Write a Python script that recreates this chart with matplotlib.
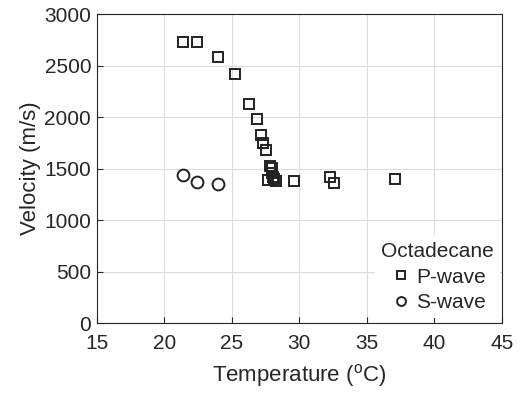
import numpy as np
import matplotlib
matplotlib.use("Agg")
import matplotlib.pyplot as plt

plt.rcParams['font.family'] = ['Liberation Sans', 'DejaVu Sans']
plt.rcParams['mathtext.fontset'] = 'custom'
plt.rcParams['mathtext.rm'] = 'Liberation Sans'

# P-wave velocity vs temperature
p_temp = [21.4, 22.4, 24.0, 25.2, 26.3, 26.9, 27.15, 27.3, 27.5, 27.85, 28.0, 28.0, 28.05,
          27.7, 28.3, 28.1, 29.6, 32.3, 32.6, 37.1]
p_vel = [2730, 2730, 2580, 2420, 2130, 1985, 1830, 1750, 1685, 1530, 1505, 1456, 1423,
         1391, 1381, 1400, 1381, 1423, 1365, 1400]

# S-wave velocity vs temperature
s_temp = [21.4, 22.4, 24.0]
s_vel = [1440, 1370, 1350]

x_ticks = [15, 20, 25, 30, 35, 40, 45]
y_ticks = [0, 500, 1000, 1500, 2000, 2500, 3000]

ink = '#262626'
fig = plt.figure(figsize=(5.21, 3.95), dpi=100)
ax = fig.add_axes([0.1856, 0.1815, 0.778, 0.783])

ax.plot(p_temp, p_vel, 's', ms=7, mfc='none', mec='#222222', mew=1.4, label='P-wave')
ax.plot(s_temp, s_vel, 'o', ms=8.5, mfc='none', mec='#222222', mew=1.4, label='S-wave')

ax.set_xlim(15, 45)
ax.set_ylim(0, 3000)
ax.set_xticks(x_ticks)
ax.set_yticks(y_ticks)
ax.grid(True, color='#dcdcdc', lw=0.8)
ax.set_axisbelow(True)
ax.tick_params(direction='in', labelsize=15, colors=ink, length=4)
ax.tick_params(axis='x', pad=8)
ax.tick_params(axis='y', pad=4)
for s in ax.spines.values():
    s.set_color(ink)
    s.set_linewidth(0.8)

ax.set_xlabel(r'Temperature ($^{\rm o}$C)', fontsize=16, color=ink, labelpad=6)
ax.set_ylabel('Velocity (m/s)', fontsize=16, color=ink, labelpad=2)

leg = ax.legend(title='Octadecane', loc='lower right', bbox_to_anchor=(1.0, 0.01),
                frameon=True, fontsize=15, title_fontsize=15, handletextpad=0.15,
                borderaxespad=0.1, markerscale=0.75, handlelength=1.2,
                labelspacing=0.3, borderpad=0.3)
leg.get_frame().set_edgecolor('none')
leg.get_frame().set_facecolor('white')
leg.get_frame().set_alpha(1)
leg.get_title().set_color(ink)
for t in leg.get_texts():
    t.set_color(ink)

plt.savefig('out.png', dpi=100)
